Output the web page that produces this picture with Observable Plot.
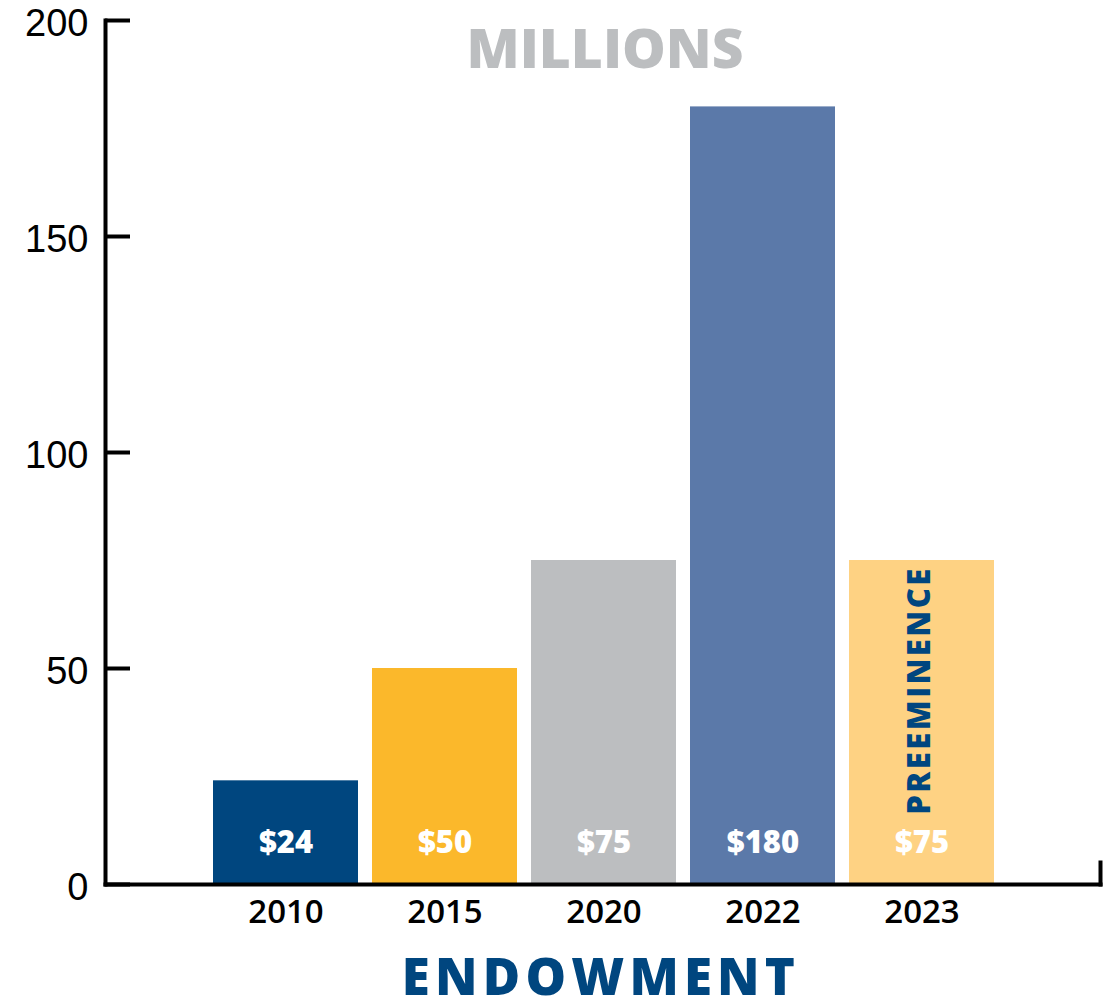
<!DOCTYPE html>
<html>
<head>
<meta charset="utf-8">
<script src="https://cdn.jsdelivr.net/npm/d3@7"></script>
<script src="https://cdn.jsdelivr.net/npm/@observablehq/plot@0.6"></script>
<style>
  html, body { margin: 0; padding: 0; background: #fff; }
  #chart svg { display: block; }
</style>
</head>
<body>
<div id="chart"></div>
<script>
const years = ["2010", "2015", "2020", "2022", "2023"];
const values = [24, 50, 75, 180, 75];
const valueLabels = ["$24", "$50", "$75", "$180", "$75"];
const barColors = ["#00467f", "#fbb82b", "#bcbec0", "#5b79a9", "#fed283"];
const yTicks = [0, 50, 100, 150, 200];
const noteYear = "2023";
const noteText = "PREEMINENCE";
const unitText = "MILLIONS";
const titleText = "ENDOWMENT";

const data = years.map((year, i) => ({
  year, value: values[i], label: valueLabels[i], color: barColors[i]
}));
const notes = [{year: noteYear, text: noteText}];

const W = 1119, H = 1008;
const boldFont = "'Open Sans', 'Noto Sans', sans-serif";

const chart = Plot.plot({
  width: W,
  height: H,
  marginTop: 20,
  marginLeft: 105,
  marginRight: 19,
  marginBottom: 124,
  style: {background: "#fff", overflow: "visible"},
  x: {domain: years, range: [198, 1009], padding: 0.09, label: null},
  y: {domain: [0, 200], label: null},
  color: {type: "identity"},
  marks: [
    Plot.barY(data, {x: "year", y: "value", fill: "color"}),
    Plot.frame({anchor: "left", stroke: "#000", strokeWidth: 4}),
    Plot.frame({anchor: "bottom", stroke: "#000", strokeWidth: 4}),
    Plot.frame({anchor: "right", stroke: "#000", strokeWidth: 4, insetTop: 842}),
    Plot.ruleY(yTicks, {y: d => d, stroke: "#000", strokeWidth: 4, insetRight: 970}),
    Plot.axisY({ticks: yTicks, tickSize: 0, tickPadding: 17, fontSize: 38, dy: 3.5,
      fontFamily: "'Liberation Sans', Arial, sans-serif", fill: "#000", label: null}),
    Plot.axisX({tickSize: 0, tickPadding: 15, fontSize: 33, fontWeight: 600,
      fontFamily: boldFont, fill: "#000", label: null}),
    Plot.text(data, {x: "year", text: "label", frameAnchor: "bottom", lineAnchor: "middle", dy: -41,
      fill: "#fff", fontSize: 31, fontWeight: 800, fontFamily: boldFont}),
    Plot.text(notes, {x: "year", text: "text", frameAnchor: "bottom", lineAnchor: "middle", dy: -194, dx: -2,
      rotate: -90, fill: "#00467f", fontSize: 31, fontWeight: 800, fontFamily: boldFont}),
    Plot.text([unitText], {text: d => d, frameAnchor: "top", lineAnchor: "middle", dy: 30, dx: 2,
      fill: "#bcbec0", fontSize: 55, fontWeight: 800, fontFamily: boldFont}),
    Plot.text([titleText], {text: d => d, frameAnchor: "bottom", lineAnchor: "bottom", dy: 110, dx: -2,
      fill: "#00467f", fontSize: 51, fontWeight: 800, fontFamily: boldFont})
  ]
});

// letter spacing to mimic the wide geometric display face of the original
d3.select(chart).selectAll("text")
  .filter(function() { return this.textContent === titleText; })
  .attr("letter-spacing", 5.2);
d3.select(chart).selectAll("text")
  .filter(function() { return this.textContent === noteText; })
  .attr("letter-spacing", 2.5);

document.getElementById("chart").appendChild(chart);
</script>
</body>
</html>
